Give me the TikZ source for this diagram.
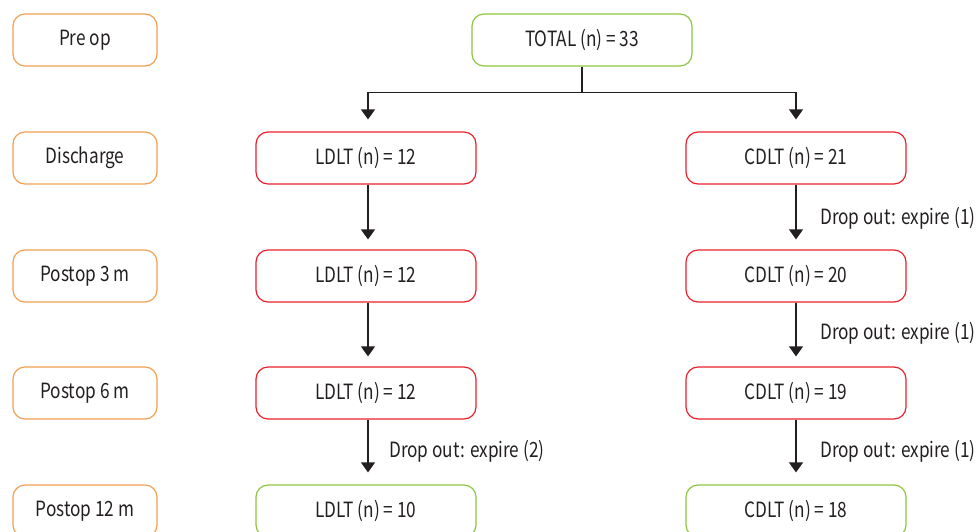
\documentclass[tikz,border=0pt]{standalone}
\usepackage{fontspec}
\setmainfont{Noto Sans CJK KR}[FakeStretch=0.82]
\usetikzlibrary{arrows.meta}
\definecolor{orangeb}{HTML}{F0A050}
\definecolor{greenb}{HTML}{8DC63F}
\definecolor{redb}{HTML}{E8202A}
\definecolor{ink}{HTML}{231F20}
\tikzset{
  box/.style={draw, line width=1.2pt, rounded corners=12pt, minimum height=52pt, inner sep=0pt, text=ink, font=\fontsize{21}{23}\selectfont},
  stage/.style={box, draw=orangeb, minimum width=144pt},
  grp/.style={box, minimum width=220pt},
  arr/.style={draw=ink, line width=1.3pt, -{Triangle[width=14pt,length=10pt]}},
  lnk/.style={draw=ink, line width=1.3pt},
  lbl/.style={anchor=west, inner sep=0pt, text=ink, font=\fontsize{21}{23}\selectfont}
}
\begin{document}
\begin{tikzpicture}[x=1pt,y=-1pt]
\useasboundingbox (0,0) rectangle (976,531);
% stage column
\node[stage] (s0) at (85,40) {Pre op};
\node[stage] (s1) at (85,158) {Discharge};
\node[stage] (s2) at (85,276) {Postop 3 m};
\node[stage] (s3) at (85,393) {Postop 6 m};
\node[stage] (s4) at (85,511) {Postop 12 m};
% total
\node[grp, draw=greenb] (tot) at (582,40) {TOTAL (n) = 33};
% LDLT
\node[grp, draw=redb] (l1) at (366,158) {LDLT (n) = 12};
\node[grp, draw=redb] (l2) at (366,276) {LDLT (n) = 12};
\node[grp, draw=redb] (l3) at (366,393) {LDLT (n) = 12};
\node[grp, draw=greenb] (l4) at (366,511) {LDLT (n) = 10};
% CDLT
\node[grp, draw=redb] (c1) at (796,158) {CDLT (n) = 21};
\node[grp, draw=redb] (c2) at (796,276) {CDLT (n) = 20};
\node[grp, draw=redb] (c3) at (796,393) {CDLT (n) = 19};
\node[grp, draw=greenb] (c4) at (796,511) {CDLT (n) = 18};
% branch
\draw[lnk] (tot.south) -- ++(0,26) coordinate (br);
\draw[arr, shorten >=12pt] (br) -| ([xshift=2pt]l1.north);
\draw[arr, shorten >=12pt] (br) -| (c1.north);
% vertical arrows
\draw[arr, shorten >=10pt] ([xshift=2pt]l1.south) -- ([xshift=2pt]l2.north);
\draw[arr, shorten >=10pt] ([xshift=2pt]l2.south) -- ([xshift=2pt]l3.north);
\draw[arr, shorten >=12pt] ([xshift=2pt]l3.south) -- ([xshift=2pt]l4.north);
\draw[arr, shorten >=10pt] (c1.south) -- (c2.north);
\draw[arr, shorten >=10pt] (c2.south) -- (c3.north);
\draw[arr, shorten >=12pt] (c3.south) -- (c4.north);
% labels
\node[lbl] (d1) at (820,218) {Drop out: expire (1)};
\node[lbl] (d2) at (820,333) {Drop out: expire (1)};
\node[lbl] (d3) at (820,451) {Drop out: expire (1)};
\node[lbl] (d4) at (389,451) {Drop out: expire (2)};
\end{tikzpicture}
\end{document}
